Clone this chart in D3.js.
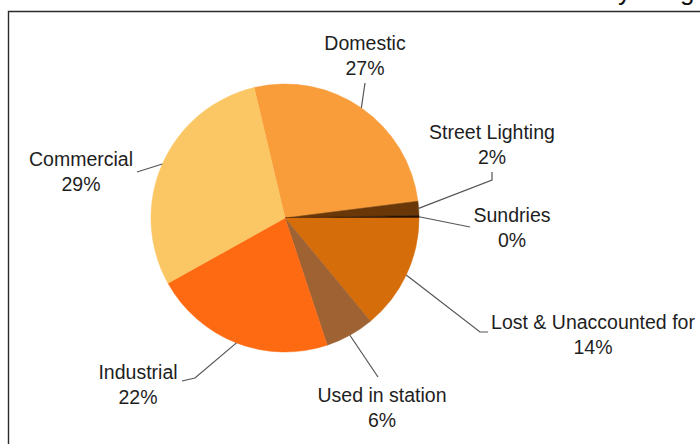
<!DOCTYPE html>
<html>
<head>
<meta charset="utf-8">
<script src="https://cdn.jsdelivr.net/npm/d3@7/dist/d3.min.js"></script>
<style>
  html, body { margin: 0; padding: 0; background: #fff; overflow: hidden; }
  svg { display: block; }
  text { font-family: "Liberation Sans", Arial, Helvetica, sans-serif; fill: #1e1e1e; }
</style>
</head>
<body>
<svg id="chart" width="700" height="444"></svg>
<script>
// Electricity use by category (share of total, %)
const categories = ["Domestic", "Street Lighting", "Sundries", "Lost & Unaccounted for", "Used in station", "Industrial", "Commercial"];
const shares = [26.7, 1.7, 0.3, 14.0, 5.9, 22.0, 29.4];
const sliceColors = ["#F99C3A", "#6A3808", "#2A1300", "#D66D0B", "#9E6233", "#FE6A12", "#FBC764"];

const title = "Electricity usage";

const W = 700, H = 444;
const cx = 285, cy = 218, R = 134;

const svg = d3.select("#chart");

// Frame around the chart area
svg.append("path")
  .attr("d", `M8.5,${H + 2} L8.5,11.5 L${W + 2},11.5`)
  .attr("fill", "none")
  .attr("stroke", "#2b2b2b")
  .attr("stroke-width", 1.4);

// Heading sits above the frame, running off the top edge
svg.append("text")
  .attr("x", 709)
  .attr("y", 0)
  .attr("text-anchor", "end")
  .style("font-size", "26px")
  .style("fill", "#111")
  .text(title);

const data = categories.map((c, i) => ({ name: c, value: shares[i], color: sliceColors[i] }));
const total = d3.sum(shares);
const pct = d3.format(".0%");

// Slices run clockwise from just left of twelve o'clock
const startDeg = -(shares[0] + shares[1] + shares[2]) / total * 360 + 90;
const pie = d3.pie()
  .value(d => d.value)
  .sort(null)
  .startAngle(startDeg * Math.PI / 180)
  .endAngle((startDeg + 360) * Math.PI / 180);

const arc = d3.arc().innerRadius(0).outerRadius(R);
const arcs = pie(data);

const g = svg.append("g").attr("transform", `translate(${cx},${cy})`);
g.selectAll("path.slice")
  .data(arcs)
  .join("path")
  .attr("class", "slice")
  .attr("d", arc)
  .attr("fill", d => d.data.color)
  .attr("stroke", d => d.data.color)
  .attr("stroke-width", 0.5);

// Label placement: text centre, first baseline, and leader bends (page coords)
const labelLayout = {
  "Domestic":               { x: 365, y: 50,  bends: [[365, 83]] },
  "Street Lighting":        { x: 492, y: 139, bends: [[492, 180], [492, 172]] },
  "Sundries":               { x: 512, y: 222, bends: [[470, 227]] },
  "Lost & Unaccounted for": { x: 593, y: 329, bends: [[480, 332], [488, 332]] },
  "Used in station":        { x: 382, y: 402, bends: [[378, 377]] },
  "Industrial":             { x: 138, y: 379, bends: [[195, 378], [182, 381]] },
  "Commercial":             { x: 81,  y: 166, bends: [[137, 172]] }
};

const lineGap = 25;
const leader = d3.line();

arcs.forEach(a => {
  const L = labelLayout[a.data.name];
  const mid = (a.startAngle + a.endAngle) / 2;
  const rim = [cx + R * Math.sin(mid), cy - R * Math.cos(mid)];
  svg.append("path")
    .attr("d", leader([rim, ...L.bends]))
    .attr("fill", "none")
    .attr("stroke", "#555")
    .attr("stroke-width", 1.2);

  const t = svg.append("text")
    .attr("text-anchor", "middle")
    .style("font-size", "19.5px");
  t.append("tspan").attr("x", L.x).attr("y", L.y).text(a.data.name);
  t.append("tspan").attr("x", L.x).attr("y", L.y + lineGap).text(pct(a.data.value / total));
});
</script>
</body>
</html>
